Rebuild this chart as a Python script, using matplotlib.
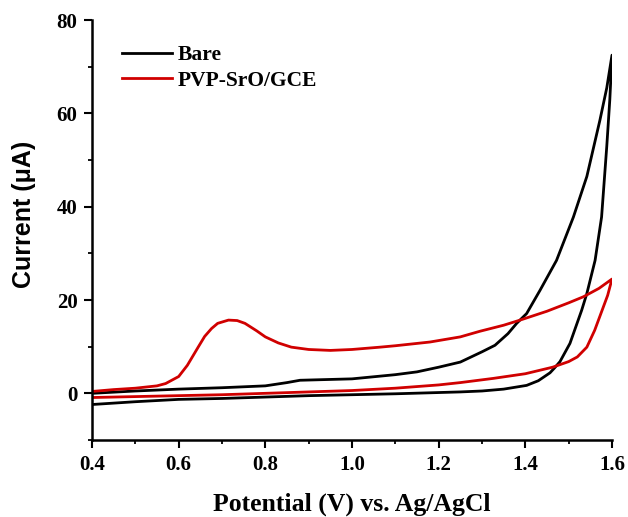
import matplotlib
matplotlib.use("Agg")
import matplotlib.pyplot as plt
from matplotlib.ticker import MultipleLocator

# ---- data ----
bare_fwd_v = [0.40, 0.50, 0.60, 0.70, 0.80, 0.85, 0.88, 0.92, 1.00, 1.10, 1.15, 1.20,
              1.25, 1.30, 1.33, 1.36, 1.38, 1.403, 1.434, 1.472, 1.511, 1.542, 1.557,
              1.572, 1.588, 1.60]
bare_fwd_i = [0.0, 0.5, 0.9, 1.2, 1.6, 2.3, 2.8, 2.9, 3.1, 4.0, 4.6, 5.6,
              6.7, 8.9, 10.3, 12.8, 15.0, 17.1, 22.1, 28.5, 37.8, 46.5, 52.5,
              58.5, 65.5, 72.5]
bare_rev_v = [1.60, 1.595, 1.588, 1.576, 1.561, 1.542, 1.530, 1.503, 1.48, 1.467, 1.457,
              1.43, 1.403, 1.35, 1.30, 1.25, 1.10, 1.00, 0.90, 0.80, 0.70, 0.60, 0.50, 0.40]
bare_rev_i = [72.5, 63.0, 53.0, 37.8, 28.5, 21.4, 17.8, 10.7, 6.8, 5.4, 4.4,
              2.7, 1.7, 0.9, 0.5, 0.3, -0.1, -0.3, -0.5, -0.8, -1.1, -1.3, -1.8, -2.4]

pvp_fwd_v = [0.40, 0.45, 0.50, 0.55, 0.57, 0.60, 0.62, 0.645, 0.66, 0.676, 0.69, 0.715,
             0.735, 0.753, 0.78, 0.80, 0.83, 0.86, 0.90, 0.95, 1.00, 1.065, 1.10, 1.18,
             1.25, 1.295, 1.35, 1.388, 1.45, 1.50, 1.534, 1.57, 1.60]
pvp_fwd_i = [0.4, 0.8, 1.1, 1.6, 2.1, 3.6, 6.0, 9.9, 12.2, 13.9, 15.0, 15.7,
             15.6, 15.0, 13.4, 12.1, 10.8, 9.9, 9.4, 9.2, 9.4, 9.9, 10.2, 11.0,
             12.1, 13.3, 14.6, 15.7, 17.6, 19.4, 20.7, 22.5, 24.5]
pvp_rev_v = [1.60, 1.59, 1.58, 1.56, 1.542, 1.52, 1.50, 1.463, 1.40, 1.326, 1.25, 1.20,
             1.10, 1.00, 0.90, 0.80, 0.70, 0.60, 0.50, 0.40]
pvp_rev_i = [24.5, 21.0, 18.5, 13.5, 9.9, 7.8, 6.8, 5.6, 4.2, 3.2, 2.3, 1.8,
             1.1, 0.6, 0.3, 0.0, -0.3, -0.5, -0.7, -0.9]

series_labels = ["Bare", "PVP-SrO/GCE"]
series_colors = ["black", "#d00000"]

x_ticks = [0.4, 0.6, 0.8, 1.0, 1.2, 1.4, 1.6]
y_ticks = [0, 20, 40, 60, 80]

serif = ["Liberation Serif", "DejaVu Serif"]
sans = ["Liberation Sans", "DejaVu Sans"]

fig = plt.figure(figsize=(6.28, 5.17), dpi=100)
ax = fig.add_axes([0.1465, 0.149, 0.828, 0.812])

ax.plot(bare_fwd_v + bare_rev_v, bare_fwd_i + bare_rev_i, color=series_colors[0],
        lw=2.0, label=series_labels[0], solid_joinstyle="round")
ax.plot(pvp_fwd_v + pvp_rev_v, pvp_fwd_i + pvp_rev_i, color=series_colors[1],
        lw=2.0, label=series_labels[1], solid_joinstyle="round")

ax.set_xlim(0.4, 1.6)
ax.set_ylim(-10, 80)
ax.set_xticks(x_ticks)
ax.set_yticks(y_ticks)
ax.xaxis.set_minor_locator(MultipleLocator(0.1))
ax.yaxis.set_minor_locator(MultipleLocator(10))
ax.set_xticklabels([f"{v:.1f}" for v in x_ticks], fontfamily=serif, fontweight="bold", fontsize=15)
ax.set_yticklabels([str(v) for v in y_ticks], fontfamily=serif, fontweight="bold", fontsize=15)

for s in ["top", "right"]:
    ax.spines[s].set_visible(False)
for s in ["left", "bottom"]:
    ax.spines[s].set_linewidth(1.8)

ax.tick_params(which="major", direction="out", length=5.5, width=1.5, pad=5)
ax.tick_params(which="minor", direction="out", length=3.2, width=1.3)

ax.set_xlabel("Potential (V) vs. Ag/AgCl", fontfamily=serif, fontweight="bold",
              fontsize=18.5, labelpad=13)
ax.set_ylabel("Current (\u03bcA)", fontfamily=sans, fontweight="bold",
              fontsize=18, labelpad=14)
ax.yaxis.set_label_coords(-0.107, 0.538)

leg = ax.legend(loc="upper left", bbox_to_anchor=(0.058, 0.94), frameon=False,
                prop={"family": serif, "weight": "bold", "size": 15.5},
                handlelength=2.3, handletextpad=0.3, labelspacing=0.25,
                borderpad=0, borderaxespad=0)

fig.savefig("out.png", dpi=100, facecolor="white")
